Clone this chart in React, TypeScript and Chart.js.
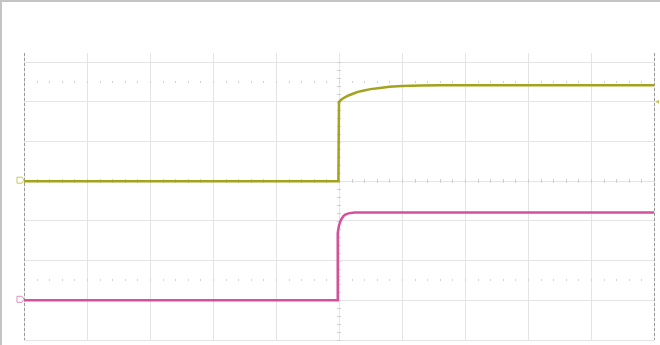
import React, { useEffect, useRef } from "react";
import { Chart, registerables } from "chart.js";

Chart.register(...registerables);

// Time axis in divisions (10 divisions, trigger at 0)
const yellowX = [-5, -0.01, 0, 0.05, 0.1, 0.15, 0.23, 0.3, 0.38, 0.5, 0.65, 0.8, 1.0, 1.3, 1.6, 2.5, 5];
const yellowY = [0, 0, 2.0, 2.07, 2.12, 2.16, 2.21, 2.25, 2.28, 2.32, 2.35, 2.38, 2.4, 2.41, 2.42, 2.42, 2.42];

const magentaX = [-5, -0.03, -0.02, -0.01, 0.0, 0.02, 0.04, 0.07, 0.1, 0.15, 0.25, 5];
const magentaY = [-3, -3, -1.3, -1.2, -1.12, -1.02, -0.95, -0.88, -0.84, -0.81, -0.79, -0.79];

// Channel reference markers (ground levels) and trigger level
const yellowGround = 0;
const magentaGround = -3;
const triggerLevel = 2.0;

const dottedRows = [2.5, -2.5];

const YELLOW = "#a3a31c";
const MAGENTA = "#d4509c";

const scopePlugin = {
  id: "scope",
  beforeDraw(chart: any) {
    const ctx = chart.ctx;
    ctx.save();
    ctx.fillStyle = "#c4c4c4";
    ctx.fillRect(0, 0, chart.width, 2);
    ctx.fillRect(0, 0, 2, chart.height);
    ctx.restore();
  },
  beforeDatasetsDraw(chart: any) {
    const ctx = chart.ctx;
    const xs = chart.scales.x;
    const ys = chart.scales.y;
    const area = chart.chartArea;
    ctx.save();
    // dotted rows
    ctx.fillStyle = "#d2d2d2";
    for (const r of dottedRows) {
      const py = Math.round(ys.getPixelForValue(r));
      for (let v = -5; v <= 5.001; v += 0.2) {
        const px = Math.round(xs.getPixelForValue(v));
        ctx.fillRect(px, py - 1, 1, 2);
      }
    }
    // center horizontal ticks
    ctx.fillStyle = "#d0d0d0";
    const cy = Math.round(ys.getPixelForValue(0));
    for (let v = -5; v <= 5.001; v += 0.2) {
      const px = Math.round(xs.getPixelForValue(v));
      ctx.fillRect(px, cy - 2, 1, 4);
    }
    // center vertical ticks
    const cx = Math.round(xs.getPixelForValue(0));
    for (let v = -4; v <= 3.001; v += 0.2) {
      const py = Math.round(ys.getPixelForValue(v));
      ctx.fillRect(cx - 2, py, 4, 1);
    }
    // dashed edges
    ctx.strokeStyle = "#9a9a9a";
    ctx.lineWidth = 1;
    ctx.setLineDash([3, 2]);
    for (const e of [-5, 5]) {
      const px = Math.round(xs.getPixelForValue(e)) + 0.5;
      ctx.beginPath();
      ctx.moveTo(px, area.top);
      ctx.lineTo(px, area.bottom);
      ctx.stroke();
    }
    ctx.setLineDash([]);
    ctx.restore();
  },
  afterDatasetsDraw(chart: any) {
    const ctx = chart.ctx;
    const xs = chart.scales.x;
    const ys = chart.scales.y;
    const left = xs.getPixelForValue(-5);
    const right = xs.getPixelForValue(5);
    ctx.save();
    const marker = (y: number, color: string) => {
      const py = ys.getPixelForValue(y) - 1;
      ctx.strokeStyle = color;
      ctx.lineWidth = 1;
      ctx.beginPath();
      ctx.moveTo(left - 7, py - 3);
      ctx.lineTo(left - 2, py - 3);
      ctx.lineTo(left, py);
      ctx.lineTo(left - 2, py + 3);
      ctx.lineTo(left - 7, py + 3);
      ctx.closePath();
      ctx.stroke();
    };
    marker(yellowGround, "#c8c860");
    marker(magentaGround, "#e08cc0");
    const ty = ys.getPixelForValue(triggerLevel);
    ctx.fillStyle = "#c8c850";
    ctx.beginPath();
    ctx.moveTo(right + 1, ty);
    ctx.lineTo(right + 5, ty - 2);
    ctx.lineTo(right + 5, ty + 2);
    ctx.closePath();
    ctx.fill();
    ctx.restore();
  },
};

export default function App() {
  const ref = useRef<HTMLCanvasElement>(null);
  useEffect(() => {
    const chart = new Chart(ref.current as HTMLCanvasElement, {
      type: "line",
      data: {
        datasets: [
          {
            label: "CH1",
            data: yellowX.map((x, i) => ({ x, y: yellowY[i] })),
            borderColor: YELLOW,
            borderWidth: 2.5,
            pointRadius: 0,
            tension: 0,
          },
          {
            label: "CH2",
            data: magentaX.map((x, i) => ({ x, y: magentaY[i] })),
            borderColor: MAGENTA,
            borderWidth: 2.5,
            pointRadius: 0,
            tension: 0,
          },
        ],
      },
      options: {
        responsive: false,
        animation: false,
        layout: { padding: { left: 24, right: 6, top: 53, bottom: 5 } },
        plugins: {
          legend: { display: false },
          tooltip: { enabled: false },
        },
        scales: {
          x: {
            type: "linear",
            min: -5,
            max: 5,
            ticks: { display: false, stepSize: 1 },
            grid: { color: "#e4e4e4", drawTicks: false },
            border: { display: false },
          },
          y: {
            type: "linear",
            min: -4,
            max: 3.23,
            afterBuildTicks: (s: any) => {
              s.ticks = [-4, -3, -2, -1, 0, 1, 2, 3].map((v) => ({ value: v }));
            },
            ticks: { display: false },
            grid: { color: "#e4e4e4", drawTicks: false },
            border: { display: false },
          },
        },
      },
      plugins: [scopePlugin],
    });
    return () => chart.destroy();
  }, []);
  return (
    <div style={{ position: "fixed", left: 0, top: 0, width: 660, height: 345, background: "#fff" }}>
      <canvas ref={ref} width={660} height={345} style={{ display: "block" }} />
    </div>
  );
}
